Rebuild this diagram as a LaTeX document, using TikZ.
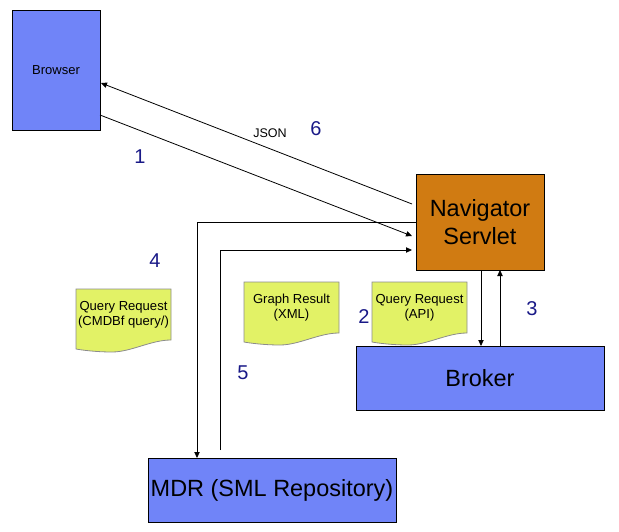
\documentclass[tikz,border=0pt]{standalone}
\usepackage{fontspec}
\setmainfont{Liberation Sans}
\usetikzlibrary{positioning,arrows.meta,calc,backgrounds}
\definecolor{boxblue}{RGB}{112,132,248}
\definecolor{servorange}{RGB}{208,123,18}
\definecolor{docyellow}{RGB}{226,242,102}
\definecolor{numblue}{RGB}{25,25,135}
\tikzset{
  comp/.style={draw=black, fill=boxblue, line width=0.75pt, inner sep=0pt, outer sep=0pt,
               font=\fontsize{17.6}{21}\selectfont, align=center},
  servlet/.style={comp, fill=servorange},
  doc/.style={inner sep=0pt, outer sep=0pt, minimum width=71.25pt, minimum height=38.25pt,
              align=center, font=\fontsize{9.8}{11.5}\selectfont},
  docshape/.style={draw=black!45, fill=docyellow, line width=0.6pt},
  flow/.style={-{Triangle[length=4.5pt,width=4pt]}, line width=0.6pt},
  num/.style={font=\fontsize{15}{17}\selectfont, text=numblue},
  tag/.style={font=\fontsize{9.4}{11}\selectfont}
}

\begin{document}
\begin{tikzpicture}[x=0.75pt,y=-0.75pt]
\useasboundingbox (0,0) rectangle (619,532);

% components
\node (browser) [comp, minimum width=66pt, minimum height=90pt, font=\fontsize{9.75}{11}\selectfont] at (56,70) {Browser};
\node (nav) [servlet, minimum width=96pt, minimum height=72pt] at (480,222) {Navigator\\Servlet};
\node (broker) [comp, minimum width=186pt, minimum height=48pt] at (480,378) {Broker};
\node (mdr) [comp, minimum width=186pt, minimum height=48pt] at (272,490) {MDR (SML Repository)};

% documents
\node (qcmdb) [doc] at (123.5,314.5) {Query Request\\(CMDBf query/)};
\node (gres) [doc] at (291.5,307.5) {Graph Result\\(XML)};
\node (qapi) [doc] at (419.5,307.5) {Query Request\\(API)};
\begin{scope}[on background layer]
  \foreach \d in {qcmdb,gres,qapi}
    \draw[docshape] (\d.north west) -- (\d.north east) -- (\d.south east)
      .. controls ($(\d.south east)+(-20,0)$) and ($(\d.south west)+(55,12)$) .. ($(\d.south west)+(36,12)$)
      .. controls ($(\d.south west)+(20,12)$) and ($(\d.south west)+(5,10)$) .. ($(\d.south west)+(0,9)$) -- cycle;
\end{scope}

% connectors
\draw[flow] ($(browser.south east)+(0,-15)$) -- ($(nav.west)+(-4,14)$);
\draw[flow] ($(nav.west)+(-4,-18)$) -- ($(browser.east)+(1,13)$);
\draw[flow] (nav.west) -| ($(mdr.north west)+(49,0)$);
\draw[flow] ($(mdr.north west)+(72,-8)$) |- ($(nav.west)+(-4,28)$);
\draw[flow] ($(nav.south)+(1,0)$) -- ($(broker.north)+(1,0)$);
\draw[flow] ($(broker.north)+(20,0)$) -- ($(nav.south)+(20,0)$);

% labels
\node (n1) [num] at (140,157) {1};
\node (n2) [num] at (364,317) {2};
\node (n3) [num] at (532,309) {3};
\node (n4) [num] at (155,261) {4};
\node (n5) [num] at (243,373) {5};
\node (n6) [num] at (316,129) {6};
\node (json) [tag] at (270,133) {JSON};
\end{tikzpicture}
\end{document}
